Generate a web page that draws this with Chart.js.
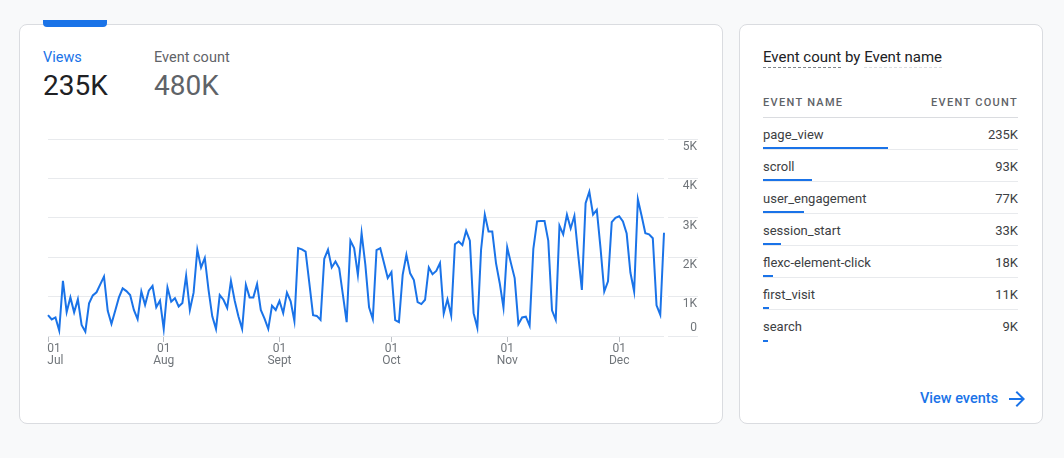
<!DOCTYPE html>
<html lang="en">
  <head>
    <meta charset="UTF-8" />
    <title>Views over time</title>
    <script src="https://cdn.jsdelivr.net/npm/chart.js"></script>
    <style>
      body {
        margin: 0;
        width: 1064px;
        height: 458px;
        background: #f8f9fa;
        font-family: Roboto, Arial, sans-serif;
        position: relative;
        overflow: hidden;
      }
      .card {
        position: absolute;
        top: 24px;
        height: 400px;
        box-sizing: border-box;
        background: #fff;
        border: 1px solid #dadce0;
        border-radius: 8px;
      }
      #mainCard { left: 19px; width: 704px; }
      #sideCard { left: 739px; width: 304px; }
      .tab {
        position: absolute;
        left: 23px;
        top: -5px;
        width: 64px;
        height: 7px;
        background: #1a73e8;
        border-radius: 0 0 4px 4px;
      }
      .metric { position: absolute; top: 25px; }
      .metric .name { font-size: 14.5px; line-height: 16px; color: #5f6368; }
      .metric .value { margin-top: 4px; font-size: 28px; line-height: 32px; color: #5f6368; }
      .metric.active .name { color: #1a73e8; }
      .metric.active .value { color: #202124; }
      .chart-wrap {
        position: absolute;
        left: 8px;
        top: 102px;
        width: 672px;
        height: 244px;
      }
      .side-title {
        position: absolute;
        left: 23px;
        top: 24px;
        font-size: 15px;
        line-height: 16px;
        color: #202124;
      }
      .side-title span { border-bottom: 1px dashed #80868b; padding-bottom: 1px; }
      .side-title span.light { border-bottom-color: #dadce0; }
      .table { position: absolute; left: 23px; width: 255px; top: 69px; }
      .thead {
        height: 24px;
        box-sizing: border-box;
        border-bottom: 1px solid #dadce0;
        padding-top: 2px;
        font-size: 11px;
        line-height: 13px;
        font-weight: 500;
        letter-spacing: 1.3px;
        color: #5f6368;
        display: flex;
        justify-content: space-between;
      }
      .row {
        position: relative;
        height: 32px;
        box-sizing: border-box;
        border-bottom: 1px solid #e8eaed;
        padding-top: 9px;
        font-size: 13px;
        line-height: 16px;
        color: #3c4043;
        display: flex;
        justify-content: space-between;
      }
      .row:last-child { border-bottom: none; }
      .row .bar {
        position: absolute;
        left: 0;
        bottom: 0;
        height: 2px;
        background: #1a73e8;
      }
      .link {
        position: absolute;
        left: 180px;
        top: 366px;
        font-size: 14.5px;
        line-height: 16px;
        font-weight: 500;
        color: #1a73e8;
      }
      .link svg { position: absolute; left: 85px; top: -4px; }
    </style>
  </head>
  <body>
    <div class="card" id="mainCard">
      <div class="tab"></div>
      <div class="metric active" style="left: 23px">
        <div class="name">Views</div>
        <div class="value">235K</div>
      </div>
      <div class="metric" style="left: 134px">
        <div class="name">Event count</div>
        <div class="value">480K</div>
      </div>
      <div class="chart-wrap"><canvas id="viewsChart"></canvas></div>
    </div>

    <div class="card" id="sideCard">
      <div class="side-title"><span>Event count</span> by <span class="light">Event name</span></div>
      <div class="table" id="eventTable">
        <div class="thead"><span>EVENT NAME</span><span>EVENT COUNT</span></div>
      </div>
      <div class="link">View events
        <svg width="24" height="24" viewBox="0 0 24 24"><path fill="#1a73e8" d="M12 4l-1.41 1.41L16.17 11H4v2h12.17l-5.58 5.59L12 20l8-8z"/></svg>
      </div>
    </div>

    <script>
      // months shown and how many days of each are in the range
      const months = ["Jul", "Aug", "Sept", "Oct", "Nov", "Dec"];
      const monthDays = [31, 31, 30, 31, 30, 13];

      // daily views, 1 Jul .. 13 Dec
      const views = [
        530, 420, 470, 140, 1400, 610, 980, 600, 930, 280,
        110, 830, 1030, 1110, 1310, 1510, 640, 310, 640, 980,
        1210, 1140, 1040, 660, 430, 1130, 790, 1150, 1270, 730,
        900, 180, 1230, 870, 960, 750, 840, 1530, 660, 1100,
        2190, 1740, 1980, 1170, 500, 180, 1040, 920, 710, 1400,
        900, 500, 180, 1300, 980, 980, 1320, 660, 440, 180,
        770, 660, 890, 580, 1100, 880, 380, 2230, 2200, 2140,
        1340, 530, 510, 410, 1960, 2190, 1740, 1890, 1720, 1040,
        350, 2420, 2230, 1550, 2610, 1810, 730, 430, 2180, 2230,
        1850, 1470, 1620, 400, 350, 1550, 2060, 1590, 1420, 860,
        810, 920, 1740, 1570, 1650, 1850, 570, 930, 520, 2330,
        2400, 2310, 2670, 2420, 580, 210, 2190, 3080, 2650, 2650,
        1850, 1340, 720, 2250, 1850, 1470, 300, 470, 490, 260,
        2210, 2910, 2920, 2920, 2420, 650, 410, 2800, 2580, 3080,
        2730, 3050, 2080, 1170, 3370, 3660, 3080, 3200, 2230, 1130,
        1390, 2890, 3000, 3040, 2910, 2600, 1610, 1130, 3470, 3050,
        2610, 2580, 2480, 780, 540, 2620,
      ];

      const yTicks = [0, 1000, 2000, 3000, 4000, 5000];
      const yTickLabels = ["0", "1K", "2K", "3K", "4K", "5K"];

      // table on the right
      const eventNames = ["page_view", "scroll", "user_engagement", "session_start", "flexc-element-click", "first_visit", "search"];
      const eventCounts = [235, 93, 77, 33, 18, 11, 9];

      // day labels for the category axis
      const dayLabels = [];
      const dayOfMonth = [];
      const dayMonth = [];
      months.forEach((m, mi) => {
        for (let d = 1; d <= monthDays[mi]; d++) {
          dayLabels.push(m + " " + d);
          dayOfMonth.push(d);
          dayMonth.push(m);
        }
      });

      // fill the table
      const table = document.getElementById("eventTable");
      const maxCount = Math.max(...eventCounts);
      eventNames.forEach((name, i) => {
        const row = document.createElement("div");
        row.className = "row";
        row.innerHTML =
          "<span>" + name + "</span><span>" + eventCounts[i] + "K</span>" +
          '<div class="bar" style="width:' + (eventCounts[i] / maxCount) * 49 + '%"></div>';
        table.appendChild(row);
      });

      Chart.defaults.font.family = "Roboto, Arial, sans-serif";

      const ctx = document.getElementById("viewsChart").getContext("2d");
      new Chart(ctx, {
        type: "line",
        data: {
          labels: dayLabels,
          datasets: [
            {
              data: views,
              borderColor: "#1a73e8",
              borderWidth: 2,
              pointRadius: 0,
              tension: 0,
              fill: false,
            },
          ],
        },
        options: {
          responsive: true,
          maintainAspectRatio: false,
          animation: false,
          layout: { padding: { left: 20, right: 3, top: 12, bottom: 3 } },
          plugins: {
            legend: { display: false },
            tooltip: { enabled: false },
          },
          scales: {
            x: {
              border: { display: false },
              grid: {
                drawOnChartArea: false,
                tickLength: 6,
                tickColor: (c) => (dayOfMonth[c.index] === 1 ? "#bdc1c6" : "transparent"),
              },
              ticks: {
                autoSkip: false,
                maxRotation: 0,
                padding: 1,
                color: "#70757a",
                font: { size: 12, lineHeight: 1.0 },
                callback: (v, i) => {
                  if (dayOfMonth[i] !== 1) return "";
                  // first label sits to the right of its tick, like the original
                  if (i === 0) return ["    01", "     " + dayMonth[i]];
                  return ["01", dayMonth[i]];
                },
              },
            },
            y: {
              position: "right",
              min: yTicks[0],
              max: yTicks[yTicks.length - 1],
              border: { display: false },
              afterFit: (scale) => {
                scale.width = 33;
              },
              grid: {
                color: "#e8eaed",
                tickLength: 34,
                tickBorderDash: [0, 4, 30, 100],
              },
              ticks: {
                stepSize: 1000,
                padding: -16,
                crossAlign: "far",
                color: "#70757a",
                font: { size: 12, lineHeight: 1.3 },
                callback: (v) => {
                  const label = yTickLabels[yTicks.indexOf(v)];
                  return v === 0 ? [label, ""] : ["", label];
                },
              },
            },
          },
        },
      });
    </script>
  </body>
</html>
